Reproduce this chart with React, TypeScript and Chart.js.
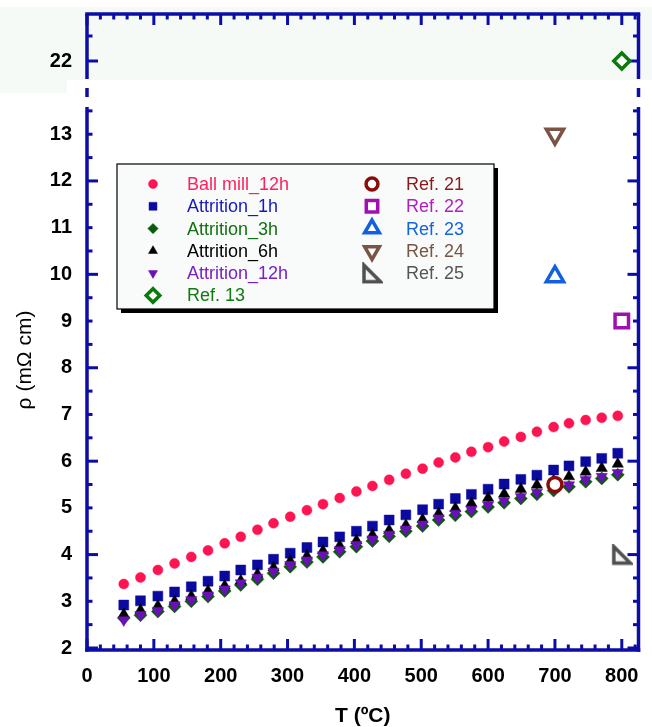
import React, { useEffect, useRef } from 'react';
import { Chart, registerables } from 'chart.js';
import { drawPoint } from 'chart.js/helpers';

Chart.register(...registerables);

const FONT = "'Liberation Sans', Arial, sans-serif";
const AXIS = '#0c0ca6';

// Temperatures (ºC) of the measured series
const temperatures = [55, 80, 106, 131, 156, 181, 206, 230, 255, 279, 304, 329, 353, 378, 403, 427, 452, 477, 502, 526, 551, 575, 600, 624, 649, 673, 698, 721, 746, 770, 794];

// Resistivity (mΩ cm)
const ballMill12h = [3.37, 3.51, 3.67, 3.81, 3.95, 4.09, 4.24, 4.38, 4.53, 4.67, 4.81, 4.95, 5.08, 5.21, 5.35, 5.47, 5.60, 5.73, 5.84, 5.97, 6.08, 6.20, 6.30, 6.42, 6.52, 6.63, 6.73, 6.81, 6.88, 6.93, 6.97];
const attrition1h = [2.92, 3.01, 3.11, 3.20, 3.31, 3.43, 3.54, 3.67, 3.78, 3.90, 4.03, 4.15, 4.27, 4.38, 4.50, 4.61, 4.74, 4.85, 4.96, 5.08, 5.20, 5.29, 5.40, 5.51, 5.61, 5.70, 5.81, 5.90, 5.99, 6.06, 6.17];
const attrition3h = [2.64, 2.70, 2.78, 2.89, 3.00, 3.10, 3.22, 3.35, 3.47, 3.60, 3.74, 3.84, 3.95, 4.06, 4.17, 4.29, 4.39, 4.50, 4.61, 4.74, 4.84, 4.92, 5.02, 5.11, 5.20, 5.29, 5.37, 5.45, 5.56, 5.63, 5.71];
const attrition6h = [2.72, 2.81, 2.90, 3.00, 3.11, 3.22, 3.33, 3.44, 3.58, 3.72, 3.86, 3.97, 4.08, 4.19, 4.30, 4.42, 4.52, 4.63, 4.75, 4.88, 4.99, 5.10, 5.21, 5.30, 5.40, 5.49, 5.58, 5.67, 5.77, 5.85, 5.94];
const attrition12h = [2.60, 2.71, 2.80, 2.92, 3.03, 3.13, 3.26, 3.39, 3.51, 3.64, 3.78, 3.88, 3.99, 4.10, 4.21, 4.33, 4.43, 4.54, 4.65, 4.78, 4.88, 4.96, 5.06, 5.15, 5.24, 5.33, 5.41, 5.49, 5.60, 5.67, 5.75];

// Literature references
const refLabels = ['Ref. 13', 'Ref. 21', 'Ref. 22', 'Ref. 23', 'Ref. 24', 'Ref. 25'];
const refT = [800, 700, 800, 700, 700, 800];
const refRho = [22, 5.5, 9, 9.95, 13, 4.0];

// Axis ticks
const xTickStep = 100;
const yTickStep = 1;
const xRange = [0, 825];
const yLowerRange = [1.957, 13.69];
const yUpperRange = [21.18, 22.94];

function makeRightTriangle(color: string) {
  const c = document.createElement('canvas');
  c.width = 22;
  c.height = 22;
  const g = c.getContext('2d')!;
  g.beginPath();
  g.moveTo(3, 3);
  g.lineTo(3, 19.5);
  g.lineTo(19.5, 19.5);
  g.closePath();
  g.fillStyle = '#f4f4f4';
  g.fill();
  g.lineWidth = 3.5;
  g.lineJoin = 'miter';
  g.strokeStyle = color;
  g.stroke();
  return c;
}

const noPad = (s: any) => {
  s.paddingTop = 0;
  s.paddingBottom = 0;
  s.paddingLeft = 0;
  s.paddingRight = 0;
};

export default function App() {
  const ref = useRef<HTMLCanvasElement>(null);

  useEffect(() => {
    const tri = makeRightTriangle('#505050');

    const series = (label: string, vals: number[], color: string, textColor: string, pointStyle: string, radius: number, rotation = 0) => ({
      label,
      data: temperatures.map((t, i) => ({ x: t, y: vals[i] })),
      pointStyle,
      pointRadius: radius,
      pointRotation: rotation,
      backgroundColor: color,
      borderColor: color,
      borderWidth: 0.5,
      showLine: false,
      yAxisID: 'y',
      textColor,
    });

    const refStyles: any[] = [
      { color: '#0a7a0a', style: 'rectRot', r: 8, rot: 0, axis: 'y2' },
      { color: '#8b0a0a', style: 'circle', r: 7, rot: 0, axis: 'y' },
      { color: '#a010b0', style: 'rect', r: 9.5, rot: 0, axis: 'y' },
      { color: '#1060e0', style: 'triangle', r: 10, rot: 0, axis: 'y' },
      { color: '#7a5545', style: 'triangle', r: 10, rot: 180, axis: 'y' },
      { color: '#505050', style: tri, r: 10, rot: 0, axis: 'y' },
    ];
    const refTextColors = ['#127a12', '#8b1a1a', '#b020c0', '#1464e0', '#7a5545', '#555555'];

    const refSets = refLabels.map((label, i) => ({
      label,
      data: [{ x: refT[i], y: refRho[i] }],
      pointStyle: refStyles[i].style,
      pointRadius: refStyles[i].r,
      pointRotation: refStyles[i].rot,
      backgroundColor: '#ffffff',
      borderColor: refStyles[i].color,
      borderWidth: 3.5,
      showLine: false,
      yAxisID: refStyles[i].axis,
      textColor: refTextColors[i],
    }));

    const mainSets = [
      series('Ball mill_12h', ballMill12h, '#ff1452', '#ff2060', 'circle', 5),
      series('Attrition_1h', attrition1h, '#0a0aa0', '#1818c0', 'rect', 7),
      series('Attrition_3h', attrition3h, '#0a5a0a', '#127012', 'rectRot', 6.5),
      series('Attrition_6h', attrition6h, '#000000', '#000000', 'triangle', 6.5),
      series('Attrition_12h', attrition12h, '#6a10b8', '#7a20c8', 'triangle', 6.5, 180),
    ];

    // drawing order: first dataset on top
    const datasets: any[] = [
      ...refSets.slice(1),
      refSets[0],
      mainSets[4],
      mainSets[3],
      mainSets[2],
      mainSets[1],
      mainSets[0],
    ];

    const legendLeft = [...mainSets, refSets[0]];
    const legendRight = refSets.slice(1);

    const decor = {
      id: 'decor',
      beforeDraw(chart: any) {
        const ctx = chart.ctx;
        const brk = chart.scales.y.top;
        ctx.save();
        ctx.fillStyle = '#f5faf7';
        ctx.fillRect(0, 7, chart.width, brk - 22 - 7);
        ctx.fillRect(0, brk - 22, 67, 13);
        ctx.restore();
      },
      beforeDatasetsDraw(chart: any) {
        const ctx = chart.ctx;
        const { left: L, right: R, top: T, bottom: B } = chart.chartArea;
        const xs = chart.scales.x;
        const yl = chart.scales.y;
        const yu = chart.scales.y2;
        const brk = yl.top;
        ctx.save();
        ctx.strokeStyle = AXIS;
        ctx.lineCap = 'butt';
        const seg = (x1: number, y1: number, x2: number, y2: number, w: number) => {
          ctx.lineWidth = w;
          ctx.beginPath();
          ctx.moveTo(x1, y1);
          ctx.lineTo(x2, y2);
          ctx.stroke();
        };
        // ticks on x (inward, top and bottom)
        for (let v = xs.min; v <= xs.max + 1e-6; v += 20) {
          const px = xs.getPixelForValue(v);
          const len = Math.round(v) % 100 === 0 ? 11 : 5.5;
          seg(px, T, px, T + len, 3);
          seg(px, B, px, B - len, 3);
        }
        // ticks on y lower
        for (let v = 2; v <= yl.max + 1e-6; v += 0.5) {
          const py = yl.getPixelForValue(v);
          if (py < brk + 5) continue;
          const len = Math.abs(v % 2) < 1e-6 ? 11 : 5.5;
          seg(L, py, L + len, py, 3);
          seg(R, py, R - len, py, 3);
        }
        // ticks on y upper
        for (let v = Math.ceil(yu.min * 2) / 2; v <= yu.max + 1e-6; v += 0.5) {
          const py = yu.getPixelForValue(v);
          if (py > brk - 23) continue;
          const len = Math.abs(v % 2) < 1e-6 ? 11 : 5.5;
          seg(L, py, L + len, py, 3);
          seg(R, py, R - len, py, 3);
        }
        // spines
        seg(L - 1.75, T, R + 1.75, T, 3.5);
        seg(L - 1.75, B, R + 1.75, B, 3.5);
        for (const x of [L, R]) {
          seg(x, T, x, brk - 23, 3.5);
          seg(x, brk - 14, x, brk - 5, 3.5);
          seg(x, brk + 5, x, B + 1.75, 3.5);
        }
        ctx.restore();
      },
      afterDatasetsDraw(chart: any) {
        const ctx = chart.ctx;
        const { left: L, right: R, top: T, bottom: B } = chart.chartArea;
        ctx.save();
        // axis titles
        ctx.fillStyle = '#000';
        ctx.textAlign = 'center';
        ctx.textBaseline = 'middle';
        ctx.font = `bold 21px ${FONT}`;
        ctx.fillText('T (ºC)', (L + R) / 2, B + 66);
        ctx.save();
        ctx.translate(25, (T + B) / 2 + 28);
        ctx.rotate(-Math.PI / 2);
        ctx.font = `21px ${FONT}`;
        ctx.fillText('ρ (mΩ cm)', 0, 0);
        ctx.restore();

        // legend box
        const bx = L + 30, by = T + 150, bw = 377, bh = 145;
        ctx.fillStyle = '#000';
        ctx.fillRect(bx + 4, by + 4, bw, bh);
        ctx.fillStyle = '#f8fbf9';
        ctx.fillRect(bx, by, bw, bh);
        ctx.strokeStyle = '#000';
        ctx.lineWidth = 1.2;
        ctx.strokeRect(bx, by, bw, bh);

        const rowH = 22.3;
        const drawItem = (ds: any, mx: number, tx: number, y: number) => {
          ctx.fillStyle = ds.backgroundColor;
          ctx.strokeStyle = ds.borderColor;
          ctx.lineWidth = ds.borderWidth;
          drawPoint(ctx, {
            pointStyle: ds.pointStyle,
            radius: ds.pointStyle === 'circle' && ds.borderWidth < 1 ? 4.5 : ds.pointRadius * (ds.borderWidth > 1 ? 0.85 : 0.8),
            rotation: ds.pointRotation,
            borderWidth: ds.borderWidth,
          } as any, mx, y);
          ctx.fillStyle = ds.textColor;
          ctx.textAlign = 'left';
          ctx.textBaseline = 'middle';
          ctx.font = `18px ${FONT}`;
          ctx.fillText(ds.label, tx, y + 1);
        };
        legendLeft.forEach((ds, i) => drawItem(ds, bx + 36, bx + 70, by + 20 + i * rowH));
        legendRight.forEach((ds, i) => drawItem(ds, bx + 255, bx + 289, by + 20 + i * rowH));
        ctx.restore();
      },
    };

    const tickFont = { family: FONT, size: 20, weight: 'bold' as const };

    const chart = new Chart(ref.current!, {
      type: 'scatter',
      data: { datasets },
      options: {
        animation: false,
        responsive: true,
        maintainAspectRatio: false,
        events: [],
        layout: { padding: { top: 14, right: 5, left: 0, bottom: 0 } },
        plugins: { legend: { display: false }, tooltip: { enabled: false } },
        scales: {
          x: {
            type: 'linear',
            min: xRange[0],
            max: xRange[1],
            ticks: { stepSize: xTickStep, includeBounds: false, font: tickFont, color: '#000', padding: 14, maxRotation: 0 },
            grid: { display: false, drawTicks: false },
            border: { display: false },
            afterFit: (s: any) => { s.height = 77; noPad(s); },
          },
          y: {
            type: 'linear',
            position: 'left',
            stack: 'v',
            stackWeight: 548,
            min: yLowerRange[0],
            max: yLowerRange[1],
            ticks: { stepSize: yTickStep, includeBounds: false, font: tickFont, color: '#000', padding: 15 },
            grid: { display: false, drawTicks: false },
            border: { display: false },
            afterFit: (s: any) => { s.width = 87; noPad(s); },
          },
          y2: {
            type: 'linear',
            position: 'left',
            stack: 'v',
            stackWeight: 88,
            min: yUpperRange[0],
            max: yUpperRange[1],
            ticks: { stepSize: yTickStep, includeBounds: false, font: tickFont, color: '#000', padding: 15 },
            grid: { display: false, drawTicks: false },
            border: { display: false },
            afterFit: (s: any) => { s.width = 87; noPad(s); },
          },
        } as any,
      },
      plugins: [decor],
    });
    return () => chart.destroy();
  }, []);

  return (
    <div style={{ position: 'absolute', left: 0, top: 0, width: 652, height: 727, background: '#fff' }}>
      <canvas ref={ref} />
    </div>
  );
}
